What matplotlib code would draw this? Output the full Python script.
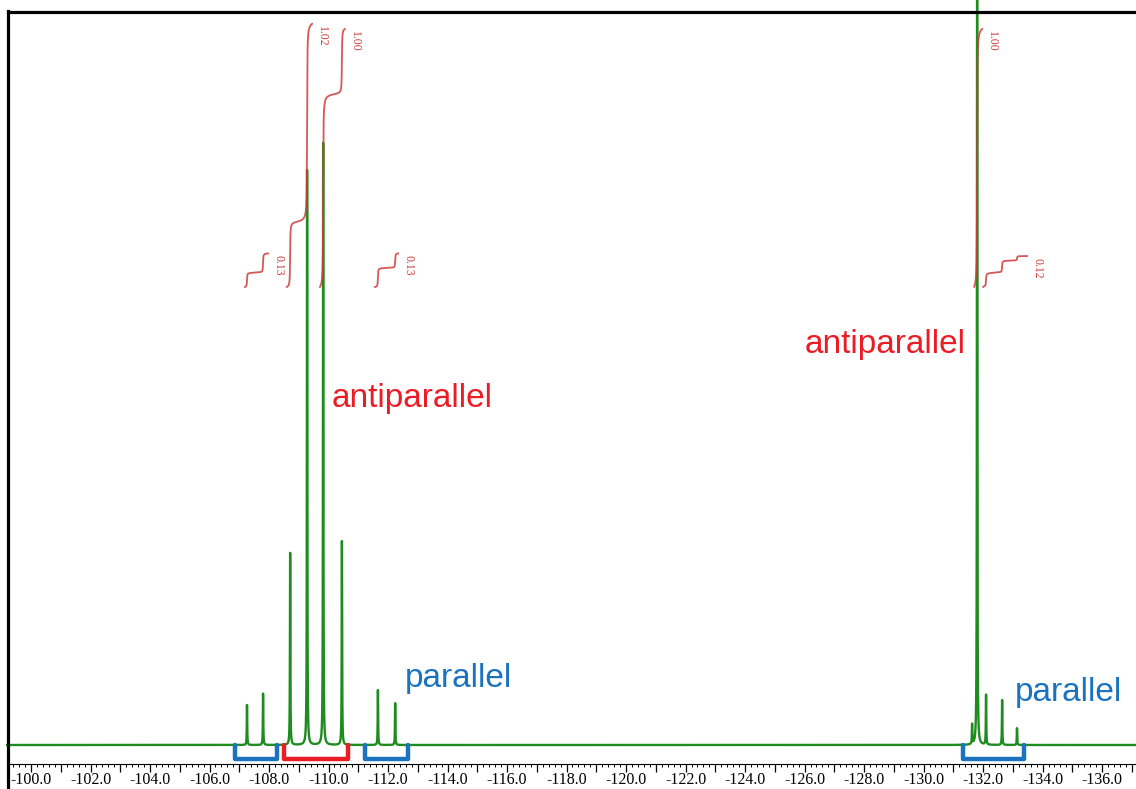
import numpy as np
import matplotlib.pyplot as plt
from matplotlib.lines import Line2D
from matplotlib.ticker import MultipleLocator, FuncFormatter

# 19F signals: shift (ppm) and peak height (intensity units above baseline)
peak_ppm = [-107.26, -107.80, -108.71, -109.28, -109.82, -110.45, -111.66,
            -112.24, -131.63, -131.80, -132.10, -132.64, -133.14]
peak_height = [40, 52, 192, 580, 605, 204, 55, 42, 20, 800, 50, 45, 17]
hwhm = 0.008

# integral regions (start, end in ppm) and their reported values
integral_start = [-107.19, -108.60, -109.71, -111.56, -131.70, -132.00]
integral_end = [-107.97, -109.45, -110.55, -112.34, -131.97, -133.48]
integral_value = [0.13, 1.02, 1.00, 0.13, 1.00, 0.12]

# group brackets under the baseline
bracket_start = [-106.86, -108.50, -111.23, -131.33]
bracket_end = [-108.27, -110.66, -112.67, -133.38]
bracket_kind = ['parallel', 'antiparallel', 'parallel', 'parallel']

# annotations: text, left x (ppm), y (intensity)
note_text = ['antiparallel', 'antiparallel', 'parallel', 'parallel']
note_x = [-110.12, -126.00, -112.57, -133.08]
note_y = [347, 400, 67, 53]

GREEN = '#1e8c1e'
INT_RED = '#d03a3a'
RED = '#eb1c24'
BLUE = '#1b72bf'
colors = {'antiparallel': RED, 'parallel': BLUE}

ppm = np.linspace(-99.2, -137.15, 19000)
spec = np.zeros_like(ppm)
for c, h in zip(peak_ppm, peak_height):
    spec += h * hwhm**2 / ((ppm - c)**2 + hwhm**2)

fig = plt.figure(figsize=(11.36, 7.89), dpi=100)
ax = fig.add_axes([8 / 1136, 1 - 764 / 789, 1 - 8 / 1136, 752 / 789])
ax.set_xlim(-99.227, -137.14)
ax.set_ylim(-19, 733)

ax.plot(ppm, spec, color=GREEN, lw=1.7, clip_on=False, zorder=2)

# integral curves
int_base = 458
int_unit = 258
for a, b, val in zip(integral_start, integral_end, integral_value):
    m = (ppm <= a) & (ppm >= b)
    cum = np.cumsum(spec[m])
    cum = cum / cum[-1]
    y = int_base + val * int_unit * cum
    ax.plot(ppm[m], y, color=INT_RED, lw=1.3, alpha=0.85, zorder=3)
    ax.annotate(f'{val:.2f}', xy=(b, y[-1]), xytext=(4, -2),
                textcoords='offset pixels', rotation=-90, ha='left', va='top',
                fontsize=8.5, color=INT_RED, family='Liberation Serif')

# brackets marking each group of lines
for a, b, kind in zip(bracket_start, bracket_end, bracket_kind):
    ax.plot([a, a, b, b], [0, -14, -14, 0], color=colors[kind], lw=3.2,
            solid_joinstyle='round', solid_capstyle='round', clip_on=False,
            zorder=4)

for t, x, y in zip(note_text, note_x, note_y):
    ax.text(x, y, t, color=colors[t], fontsize=24, family='Liberation Sans',
            ha='left', va='center')

# frame: heavy top and left rules, thin scale line at the bottom
for side in ['right', 'left']:
    ax.spines[side].set_visible(False)
ax.spines['top'].set_linewidth(2.3)
ax.spines['bottom'].set_linewidth(0.8)
fig.add_artist(Line2D([7.5 / 1136, 7.5 / 1136], [0, 1 - 11 / 789],
                      color='black', lw=2.3))

ax.xaxis.set_major_locator(MultipleLocator(1))
ax.xaxis.set_minor_locator(MultipleLocator(0.2))
ax.xaxis.set_major_formatter(FuncFormatter(
    lambda v, p: f'{v:.1f}' if round(v) % 2 == 0 else ''))
ax.tick_params(axis='x', which='major', direction='out', length=5.5, width=0.9,
               pad=0.5, labelsize=11.5)
ax.tick_params(axis='x', which='minor', direction='out', length=2.5,
               width=0.7)
for lab in ax.get_xticklabels():
    lab.set_family('Liberation Serif')
ax.set_yticks([])

fig.savefig('out.png', dpi=100)
